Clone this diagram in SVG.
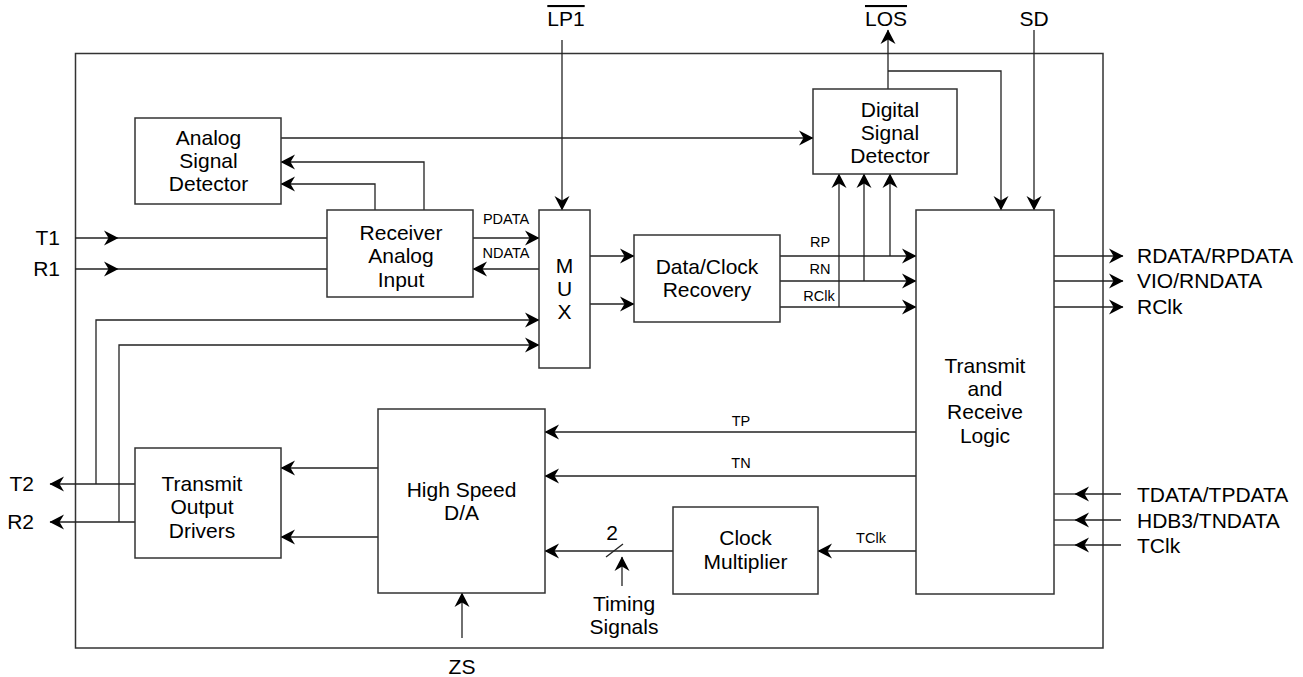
<svg xmlns="http://www.w3.org/2000/svg" width="1303" height="677" viewBox="0 0 1303 677">
<defs>
<marker id="ah" markerUnits="userSpaceOnUse" markerWidth="20" markerHeight="20" viewBox="-18 -10 20 20" refX="0" refY="0" orient="auto">
<path d="M0.5,0 L-14,-7.5 L-9.5,0 L-14,7.5 Z" fill="#000"/>
</marker>
</defs>
<style>
.box{fill:#fff;stroke:#333;stroke-width:1.5}
.frame{fill:none;stroke:#333;stroke-width:1.5}
.ln{fill:none;stroke:#222;stroke-width:1.3}
.arr{marker-end:url(#ah)}
text{font-family:"Liberation Sans",Arial,sans-serif;fill:#000}
.bt{font-size:21px;text-anchor:middle}
.pl{font-size:21px}
.sl{font-size:14.5px;text-anchor:middle}
.ov{text-decoration:overline}
</style>
<rect class="frame" x="75.5" y="53.5" width="1027.5" height="594.5"/>

<g id="connectors">
<path class="ln arr" d="M75,238 H118"/><path class="ln" d="M118,238 H327"/>
<path class="ln arr" d="M75,269 H118"/><path class="ln" d="M118,269 H327"/>
<path class="ln arr" d="M473,238 H539"/>
<path class="ln arr" d="M539,269 H473"/>
<path class="ln arr" d="M562,40 V210"/>
<path class="ln arr" d="M281,138 H813"/>
<path class="ln arr" d="M424,210 V162 H281"/>
<path class="ln arr" d="M375,210 V184 H281"/>
<path class="ln arr" d="M590,256 H634"/>
<path class="ln arr" d="M590,304 H634"/>
<path class="ln arr" d="M780,256 H916"/>
<path class="ln arr" d="M780,281 H916"/>
<path class="ln arr" d="M780,307 H916"/>
<path class="ln arr" d="M890,256 V174"/>
<path class="ln arr" d="M864,281 V174"/>
<path class="ln arr" d="M839,307 V174"/>
<path class="ln arr" d="M888,89 V30"/>
<path class="ln arr" d="M888,71 H1001 V210"/>
<path class="ln arr" d="M1034,30 V210"/>
<path class="ln arr" d="M1054,256 H1123"/>
<path class="ln arr" d="M1054,281 H1123"/>
<path class="ln arr" d="M1054,307 H1123"/>
<path class="ln arr" d="M1121,494 H1075"/><path class="ln" d="M1075,494 H1054"/>
<path class="ln arr" d="M1121,520 H1075"/><path class="ln" d="M1075,520 H1054"/>
<path class="ln arr" d="M1121,545 H1075"/><path class="ln" d="M1075,545 H1054"/>
<path class="ln arr" d="M916,432 H545"/>
<path class="ln arr" d="M916,476 H545"/>
<path class="ln arr" d="M916,551 H818"/>
<path class="ln arr" d="M673,551 H545"/>
<path class="ln" d="M606,557 L623,544"/>
<path class="ln arr" d="M622,586 V557"/>
<path class="ln arr" d="M462,638 V593"/>
<path class="ln arr" d="M378,468 H281"/>
<path class="ln arr" d="M378,537 H281"/>
<path class="ln arr" d="M135,484 H50"/>
<path class="ln arr" d="M135,522 H50"/>
<path class="ln arr" d="M96,484 V320 H539"/>
<path class="ln arr" d="M119,522 V345 H539"/>
</g>

<g id="conn-labels">
<text class="sl" x="506" y="223.5">PDATA</text>
<text class="sl" x="506" y="257.5">NDATA</text>
<text class="sl" x="820" y="247">RP</text>
<text class="sl" x="820" y="274">RN</text>
<text class="sl" x="819" y="301">RClk</text>
<text class="sl" x="741" y="426">TP</text>
<text class="sl" x="741" y="468">TN</text>
<text class="sl" x="871" y="543">TClk</text>
<text class="pl" x="612" y="540" text-anchor="middle">2</text>
<text class="pl" x="624" y="610.5" text-anchor="middle">Timing</text>
<text class="pl" x="624" y="633.5" text-anchor="middle">Signals</text>
</g>

<g id="pins">
<text class="pl" x="60" y="245" text-anchor="end">T1</text>
<text class="pl" x="60" y="276" text-anchor="end">R1</text>
<text class="pl" x="34" y="491" text-anchor="end">T2</text>
<text class="pl" x="34" y="529" text-anchor="end">R2</text>
<text class="pl ov" x="566" y="26" text-anchor="middle">LP1</text>
<text class="pl ov" x="886" y="26" text-anchor="middle">LOS</text>
<text class="pl" x="1034" y="26" text-anchor="middle">SD</text>
<text class="pl" x="462" y="674" text-anchor="middle">ZS</text>
<text class="pl" x="1137" y="263">RDATA/RPDATA</text>
<text class="pl" x="1137" y="288">VIO/RNDATA</text>
<text class="pl" x="1137" y="314">RClk</text>
<text class="pl" x="1137" y="502">TDATA/TPDATA</text>
<text class="pl" x="1137" y="528">HDB3/TNDATA</text>
<text class="pl" x="1137" y="553">TClk</text>
</g>

<g id="analog-signal-detector">
<rect class="box" x="135" y="118" width="146" height="86"/>
<text class="bt" x="208.5" y="144.5">Analog</text>
<text class="bt" x="208.5" y="167.5">Signal</text>
<text class="bt" x="208.5" y="190.5">Detector</text>
</g>
<g id="receiver-analog-input">
<rect class="box" x="327" y="210" width="146" height="87"/>
<text class="bt" x="401" y="240">Receiver</text>
<text class="bt" x="401" y="263">Analog</text>
<text class="bt" x="401" y="286.5">Input</text>
</g>
<g id="mux">
<rect class="box" x="539" y="210" width="51" height="158"/>
<text class="bt" x="564.5" y="272.5">M</text>
<text class="bt" x="564.5" y="295.5">U</text>
<text class="bt" x="564.5" y="318.5">X</text>
</g>
<g id="data-clock-recovery">
<rect class="box" x="634" y="235" width="146" height="87"/>
<text class="bt" x="707" y="273.5">Data/Clock</text>
<text class="bt" x="707" y="296.5">Recovery</text>
</g>
<g id="digital-signal-detector">
<rect class="box" x="813" y="89" width="144" height="85"/>
<text class="bt" x="890" y="116.5">Digital</text>
<text class="bt" x="890" y="140">Signal</text>
<text class="bt" x="890" y="163">Detector</text>
</g>
<g id="transmit-receive-logic">
<rect class="box" x="916" y="210" width="138" height="384"/>
<text class="bt" x="985" y="372.5">Transmit</text>
<text class="bt" x="985" y="395.5">and</text>
<text class="bt" x="985" y="419">Receive</text>
<text class="bt" x="985" y="442.5">Logic</text>
</g>
<g id="high-speed-da">
<rect class="box" x="378" y="409" width="167" height="184"/>
<text class="bt" x="461.5" y="497">High Speed</text>
<text class="bt" x="461.5" y="520">D/A</text>
</g>
<g id="clock-multiplier">
<rect class="box" x="673" y="507" width="145" height="87"/>
<text class="bt" x="745.5" y="545">Clock</text>
<text class="bt" x="745.5" y="568.5">Multiplier</text>
</g>
<g id="transmit-output-drivers">
<rect class="box" x="135" y="448" width="146" height="110"/>
<text class="bt" x="202" y="491">Transmit</text>
<text class="bt" x="202" y="514">Output</text>
<text class="bt" x="202" y="537.5">Drivers</text>
</g>
</svg>
